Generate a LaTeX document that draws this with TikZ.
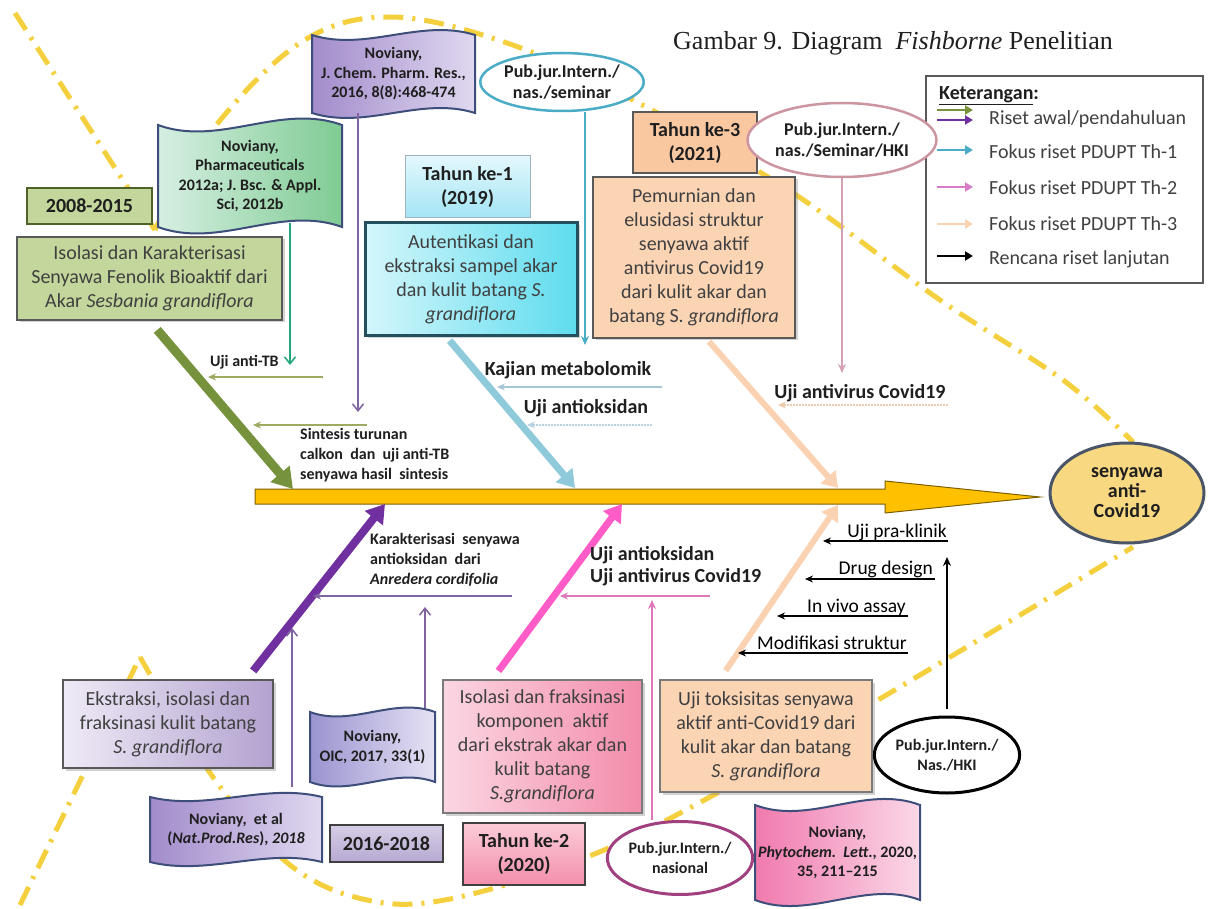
\documentclass[tikz,border=0pt]{standalone}
\usepackage{fontspec}
\setmainfont{Carlito}
\newfontfamily\titlefont{Liberation Serif}
\usetikzlibrary{arrows.meta,shadows,shapes.geometric,calc}

\definecolor{fishY}{HTML}{F4D03F}
\definecolor{spineF}{HTML}{FFC000}
\definecolor{spineD}{HTML}{7F6000}
\definecolor{tgray}{HTML}{404040}
\definecolor{tdark}{HTML}{1F1F1F}
\definecolor{oliveF}{HTML}{C3D69B}
\definecolor{oliveD}{HTML}{4F6228}
\definecolor{oliveB}{HTML}{76923C}
\definecolor{purpB}{HTML}{7030A0}
\definecolor{purpT}{HTML}{8064A2}
\definecolor{cyanB}{HTML}{8FCADB}
\definecolor{pinkB}{HTML}{FF5CC8}
\definecolor{pinkT}{HTML}{DC78B8}
\definecolor{peachB}{HTML}{FAD2B2}
\definecolor{peachF}{HTML}{FBD4B4}
\definecolor{peachY}{HTML}{F9C7A0}
\definecolor{greenT}{HTML}{22A67A}
\definecolor{tealT}{HTML}{4BACC6}
\definecolor{roseT}{HTML}{D6A2B2}
\definecolor{roseE}{HTML}{CC95A0}
\definecolor{magE}{HTML}{A0407F}
\definecolor{oliveL}{HTML}{9DAA62}
\definecolor{blueL}{HTML}{A6C6D8}
\definecolor{boxG}{HTML}{595959}
\definecolor{docB}{HTML}{3E4E7A}
\definecolor{autB}{HTML}{24505E}
\definecolor{autL}{HTML}{D4F6FB}
\definecolor{autR}{HTML}{5EDCEE}
\definecolor{yoneT}{HTML}{E3F8FD}
\definecolor{yoneB}{HTML}{A3E4F4}
\definecolor{yoneD}{HTML}{9DB4BC}
\definecolor{ekL}{HTML}{EFEAF6}
\definecolor{ekR}{HTML}{B3A2D0}
\definecolor{ysT}{HTML}{D6CEE6}
\definecolor{ysB}{HTML}{B7A9D2}
\definecolor{frL}{HTML}{FBD6E2}
\definecolor{frR}{HTML}{F38CAB}
\definecolor{ytT}{HTML}{FBCCD8}
\definecolor{ytB}{HTML}{F48FAC}
\definecolor{goalF}{HTML}{F8D880}
\definecolor{goalD}{HTML}{4A5668}
\definecolor{dgL}{HTML}{D6EFE2}
\definecolor{dgR}{HTML}{7FCB93}
\definecolor{dpL}{HTML}{A28CCB}
\definecolor{dpR}{HTML}{E0D8F0}
\definecolor{doL}{HTML}{9A94D0}
\definecolor{doR}{HTML}{E6E2F4}
\definecolor{dhL}{HTML}{F07AAE}
\definecolor{dhR}{HTML}{FBD8E8}
\definecolor{legM}{HTML}{D77CC6}

% wave-shaped document: name, centre, width, height, fill options, text
\newcommand{\wavedoc}[6]{%
  \path[docshape,#5,shift={#2}]
    ({-(#3)/2},{-(#4)/2})
    .. controls ({-(#3)/6},{-(#4)/2+0.22*(#4)}) and ({(#3)/6},{-(#4)/2-0.22*(#4)}) .. ({(#3)/2},{-(#4)/2})
    -- ({(#3)/2},{(#4)/2})
    .. controls ({(#3)/6},{(#4)/2-0.22*(#4)}) and ({-(#3)/6},{(#4)/2+0.22*(#4)}) .. ({-(#3)/2},{(#4)/2})
    -- cycle;
  \node[doctext,minimum width=#3pt,minimum height=#4pt] (#1) at #2 {#6};
}

\begin{document}
\begin{tikzpicture}[x=1pt,y=-1pt,
  fish/.style={draw=fishY, line width=5pt, dash pattern=on 20pt off 9pt on 3pt off 9pt},
  mbox/.style={rectangle, align=center, text=tgray, font=\fontsize{20}{24}\selectfont, inner sep=2pt, line width=2pt, drop shadow={opacity=0.35,shadow xshift=2.5pt,shadow yshift=-2.5pt}},
  ybox/.style={rectangle, align=center, text=tdark, font=\bfseries\fontsize{20}{24}\selectfont, inner sep=2pt, line width=1.5pt},
  docshape/.style={draw=docB, line width=2pt},
  doctext/.style={align=center, text=tdark, font=\bfseries\fontsize{16}{19.5}\selectfont, inner sep=0pt},
  pub/.style={ellipse, fill=white, align=center, text=tdark, inner sep=0pt, line width=2.5pt},
  small/.style={font=\bfseries\fontsize{16}{20}\selectfont, text=tdark, inner sep=0pt, align=left},
  big/.style={font=\bfseries\fontsize{20}{22}\selectfont, text=tdark, inner sep=0pt, align=left},
  rlab/.style={font=\fontsize{19.5}{22}\selectfont, text=black, inner sep=0pt},
  legtext/.style={font=\fontsize{20}{24}\selectfont, text=tgray, inner sep=0pt, anchor=west},
  legarrow/.style={line width=2.5pt, -{Triangle[length=8pt,width=9pt]}},
  barb/.style={line width=1.5pt, -{Straight Barb[length=7pt,width=11pt]}},
  stl/.style={line width=1.8pt, -{Stealth[length=9pt,width=8pt]}},
  branch/.style={line width=2pt, -{Stealth[length=8pt,width=7pt]}},
]
\useasboundingbox (0,0) rectangle (1208,909);
\fill[white] (0,0) rectangle (1208,909);

% ---------- fish outline ----------
\draw[fish] (15,13) -- (155,230);
\draw[fish] plot[smooth, tension=0.6] coordinates {(155,230) (210,133) (300,43) (390,17) (507,43) (633,100) (793,193) (940,300) (1063,380) (1133,442)};
\draw[fish] (20,905) -- (140,657);
\draw[fish] plot[smooth, tension=0.6] coordinates {(140,657) (215,780) (290,865) (367,900) (450,899) (587,857) (710,797) (883,697) (1133,547)};

% ---------- spine ----------
\path[fill=spineF, draw=spineD, line width=1pt] (255,489) -- (885,489) -- (885,481) -- (1040,497) -- (885,513) -- (885,504) -- (255,504) -- cycle;
\coordinate (sG) at (293,489);
\coordinate (sC) at (575,488);
\coordinate (sP) at (838,488);
\coordinate (sV) at (385,504);
\coordinate (sK) at (622,504);
\coordinate (sQ) at (838,505);

% ---------- goal ----------
\node[ellipse, draw=goalD, line width=3pt, fill=goalF, minimum width=154pt, minimum height=100pt, inner sep=0pt, align=center, font=\bfseries\fontsize{20}{20}\selectfont, text=tdark] (goal) at (1127,493) {senyawa\\anti-\\Covid19};

% ---------- title ----------
\node[font=\titlefont\fontsize{26}{30}\selectfont, anchor=west, inner sep=0pt, text=tdark] (title) at (673,43) {Gambar 9. Diagram\ \ \textit{Fishborne} Penelitian};

% ---------- legend ----------
\node[draw=boxG, line width=1.5pt, minimum width=277pt, minimum height=207pt, inner sep=0pt] (legend) at (1064.5,179.5) {};
\node[font=\bfseries\fontsize{20}{24}\selectfont, anchor=west, inner sep=0pt, text=tdark] (ket) at (939,96) {\underline{Keterangan}:};
\coordinate (la1) at (937,110); \coordinate (lb1) at (973,110);
\coordinate (la2) at (937,120); \coordinate (lb2) at (973,120);
\coordinate (la3) at (937,150); \coordinate (lb3) at (973,150);
\coordinate (la4) at (937,187); \coordinate (lb4) at (973,187);
\coordinate (la5) at (937,224); \coordinate (lb5) at (973,224);
\coordinate (la6) at (937,256); \coordinate (lb6) at (973,256);
\draw[legarrow, oliveB] (la1) -- (lb1);
\draw[legarrow, purpB] (la2) -- (lb2);
\draw[legarrow, tealT] (la3) -- (lb3);
\draw[legarrow, legM] (la4) -- (lb4);
\draw[legarrow, peachB] (la5) -- (lb5);
\draw[legarrow, black] (la6) -- (lb6);
\node[legtext] (lt1) at (989,119) {Riset awal/pendahuluan};
\node[legtext] (lt2) at (989,152) {Fokus riset PDUPT Th-1};
\node[legtext] (lt3) at (989,188) {Fokus riset PDUPT Th-2};
\node[legtext] (lt4) at (989,224) {Fokus riset PDUPT Th-3};
\node[legtext] (lt5) at (989,259) {Rencana riset lanjutan};

% ---------- upper boxes ----------
\node[ybox, draw=oliveD, fill=oliveF, minimum width=125pt, minimum height=36pt] (y0815) at (89.5,206) {2008-2015};
\node[mbox, draw=boxG, line width=1.5pt, fill=oliveF, minimum width=265pt, minimum height=83pt] (isoKar) at (149.5,278.5) {Isolasi dan Karakterisasi\\Senyawa Fenolik Bioaktif dari\\Akar \textit{Sesbania grandiflora}};
\wavedoc{docG}{(250,176)}{184}{102}{left color=dgL, right color=dgR}{Noviany,\\Pharmaceuticals\\2012a; J. Bsc. \& Appl.\\Sci, 2012b}
\wavedoc{docP}{(393.5,74)}{163}{78}{left color=dpL, right color=dpR}{Noviany,\\J. Chem. Pharm. Res.,\\2016, 8(8):468-474}
\node[pub, draw=tealT, minimum width=140pt, minimum height=58pt, font=\bfseries\fontsize{18}{21}\selectfont] (pub1) at (562,82) {Pub.jur.Intern./\\nas./seminar};
\node[ybox, draw=yoneD, line width=1pt, top color=yoneT, bottom color=yoneB, minimum width=125pt, minimum height=62pt] (y1) at (467.5,187) {Tahun ke-1\\(2019)};
\node[mbox, draw=autB, line width=3pt, left color=autL, right color=autR, minimum width=212pt, minimum height=113pt] (autent) at (471,279.5) {Autentikasi dan\\ekstraksi sampel akar\\dan kulit batang \textit{S.}\\\textit{grandiflora}};
\node[ybox, draw=boxG, fill=peachY, minimum width=124pt, minimum height=61pt] (y3) at (695,142.5) {Tahun ke-3\\(2021)};
\node[mbox, draw=boxG, line width=2.5pt, fill=peachF, minimum width=202pt, minimum height=161pt] (pemurn) at (694,257.5) {Pemurnian dan\\elusidasi struktur\\senyawa aktif\\antivirus Covid19\\dari kulit akar dan\\batang S. \textit{grandiflora}};
\node[pub, draw=roseE, minimum width=150pt, minimum height=74pt, font=\bfseries\fontsize{18}{21}\selectfont] (pub2) at (842,140) {Pub.jur.Intern./\\nas./Seminar/HKI};

% ---------- lower boxes ----------
\node[mbox, draw=boxG, line width=2.5pt, left color=ekL, right color=ekR, minimum width=210pt, minimum height=88pt] (ekstr) at (168,724) {Ekstraksi, isolasi dan\\fraksinasi kulit batang\\\textit{S. grandiflora}};
\wavedoc{docNP}{(236,829.5)}{172}{65}{left color=dpL, right color=dpR}{Noviany,\ \ et al\\(\textit{Nat.Prod.Res}), \textit{2018}}
\wavedoc{docOIC}{(372.5,747)}{125}{70}{left color=doL, right color=doR}{Noviany,\\OIC, 2017, 33(1)}
\node[ybox, draw=tgray, top color=ysT, bottom color=ysB, minimum width=113pt, minimum height=37pt] (y1618) at (386.5,843.5) {2016-2018};
\node[mbox, draw=boxG!80, line width=2pt, left color=frL, right color=frR, minimum width=199pt, minimum height=133pt] (isoFr) at (542.5,746.5) {Isolasi dan fraksinasi\\komponen\ \ aktif\\dari ekstrak akar dan\\kulit batang\\\textit{S.grandiflora}};
\node[ybox, draw=tgray, top color=ytT, bottom color=ytB, minimum width=122pt, minimum height=62pt] (y2) at (524,854) {Tahun ke-2\\(2020)};
\node[pub, draw=magE, line width=3pt, minimum width=136pt, minimum height=73pt, font=\bfseries\fontsize{16}{20}\selectfont] (pub3) at (680,858) {Pub.jur.Intern./\\nasional};
\node[mbox, draw=boxG!80, line width=2pt, fill=peachF, minimum width=212pt, minimum height=112pt] (toks) at (766,736) {Uji toksisitas senyawa\\aktif anti-Covid19 dari\\kulit akar dan batang\\\textit{S. grandiflora}};
\wavedoc{docPh}{(837.5,852.5)}{165}{95}{left color=dhL, right color=dhR}{Noviany,\\\textit{Phytochem.\ \ Lett}., 2020,\\35, 211--215}
\node[pub, draw=black, line width=3pt, minimum width=134pt, minimum height=76pt, font=\bfseries\fontsize{16}{20}\selectfont] (pub4) at (947,755) {Pub.jur.Intern./\\Nas./HKI};

% ---------- main bones ----------
\draw[line width=9pt, oliveB, -{Triangle[length=20pt,width=24pt]}, shorten <=12pt] (isoKar.south) -- (sG);
\draw[line width=7pt, cyanB, -{Triangle[length=17pt,width=21pt]}, shorten <=4pt] ([xshift=-24pt]autent.south) -- (sC);
\draw[line width=6pt, peachB, -{Triangle[length=15pt,width=19pt]}, shorten <=3pt] ([xshift=13pt]pemurn.south) -- (sP);
\draw[line width=8pt, purpB, -{Triangle[length=18pt,width=22pt]}, shorten <=10pt] ([xshift=79pt]ekstr.north) -- (sV);
\draw[line width=7pt, pinkB, -{Triangle[length=17pt,width=21pt]}, shorten <=10pt] ([xshift=-50pt]isoFr.north) -- (sK);
\draw[line width=6pt, peachB, -{Triangle[length=15pt,width=19pt]}, shorten <=10pt] ([xshift=-46pt]toks.north) -- (sQ);

% ---------- vertical feeders ----------
\coordinate (gT) at (290,365);
\coordinate (pT) at (358,412);
\coordinate (tT) at (585,345);
\coordinate (rT) at (842,373);
\coordinate (nT) at (292,628);
\coordinate (oT) at (425,607);
\coordinate (kT) at (652,600);
\coordinate (bT) at (947,557);
\draw[barb, greenT, shorten <=-4pt] ([xshift=40pt]docG.south) -- (gT);
\draw[barb, purpT] ([xshift=-35.5pt]docP.south) -- (pT);
\draw[stl, tealT] ([xshift=23pt]pub1.south) -- (tT);
\draw[stl, roseT, line width=1.5pt] (pub2.south) -- (rT);
\draw[barb, purpT, shorten <=10pt] ([xshift=56pt]docNP.north) -- (nT);
\draw[barb, purpT, shorten <=4pt] ([xshift=52.5pt]docOIC.north) -- (oT);
\draw[stl, pinkT, line width=1.5pt] ([xshift=-28pt]pub3.north) -- (kT);
\draw[stl, black, shorten <=7pt] (pub4.north) -- (bT);

% ---------- branches ----------
\coordinate (b1r) at (323,377); \coordinate (b1l) at (208,377);
\coordinate (b2r) at (367,425); \coordinate (b2l) at (253,425);
\coordinate (b3r) at (662,387); \coordinate (b3l) at (497,387);
\coordinate (b4r) at (652,425); \coordinate (b4l) at (527,425);
\coordinate (b5r) at (948,405); \coordinate (b5l) at (778,405);
\coordinate (b6r) at (512,596); \coordinate (b6l) at (313,596);
\coordinate (b7r) at (710,596); \coordinate (b7l) at (560,596);
\coordinate (b8r) at (948,541); \coordinate (b8l) at (823,541);
\coordinate (b9r) at (935,579); \coordinate (b9l) at (805,579);
\coordinate (b10r) at (908,616); \coordinate (b10l) at (777,616);
\coordinate (b11r) at (908,653); \coordinate (b11l) at (738,653);
\draw[branch, oliveL] (b1r) -- (b1l);
\draw[branch, oliveL] (b2r) -- (b2l);
\draw[branch, blueL] (b3r) -- (b3l);
\draw[branch, blueL!80, line width=1.5pt, dash pattern=on 2pt off 1pt] (b4r) -- (b4l);
\draw[branch, peachB!90!gray, line width=1.5pt, dash pattern=on 2pt off 1pt] (b5r) -- (b5l);
\draw[branch, purpT] (b6r) -- (b6l);
\draw[branch, pinkT] (b7r) -- (b7l);
\draw[branch, black, line width=1.6pt] (b8r) -- (b8l);
\draw[branch, black, line width=1.6pt] (b9r) -- (b9l);
\draw[branch, black, line width=1.6pt] (b10r) -- (b10l);
\draw[branch, black, line width=1.6pt] (b11r) -- (b11l);

% ---------- labels ----------
\node[small, anchor=west] (lTB) at (210,362) {Uji anti-TB};
\node[small, anchor=west] (lSin) at (300,455) {Sintesis turunan\\calkon\ \ dan\ \ uji anti-TB\\senyawa hasil\ \ sintesis};
\node[big] (lKaj) at (568,370) {Kajian metabolomik};
\node[big] (lAO) at (586,408) {Uji antioksidan};
\node[big] (lAV) at (860,393) {Uji antivirus Covid19};
\node[small, anchor=west] (lKar) at (370,560) {Karakterisasi\ \ senyawa\\antioksidan\ \ dari\\\textit{Anredera cordifolia}};
\node[big, anchor=west] (lAO2) at (590,566) {Uji antioksidan\\Uji antivirus Covid19};
\node[rlab, anchor=base east] (lPK) at (947,537) {Uji pra-klinik};
\node[rlab, anchor=base east] (lDD) at (933,574) {Drug design};
\node[rlab, anchor=base east] (lIV) at (906,612) {In vivo assay};
\node[rlab, anchor=base east] (lMS) at (907,649) {Modifikasi struktur};
\end{tikzpicture}
\end{document}
